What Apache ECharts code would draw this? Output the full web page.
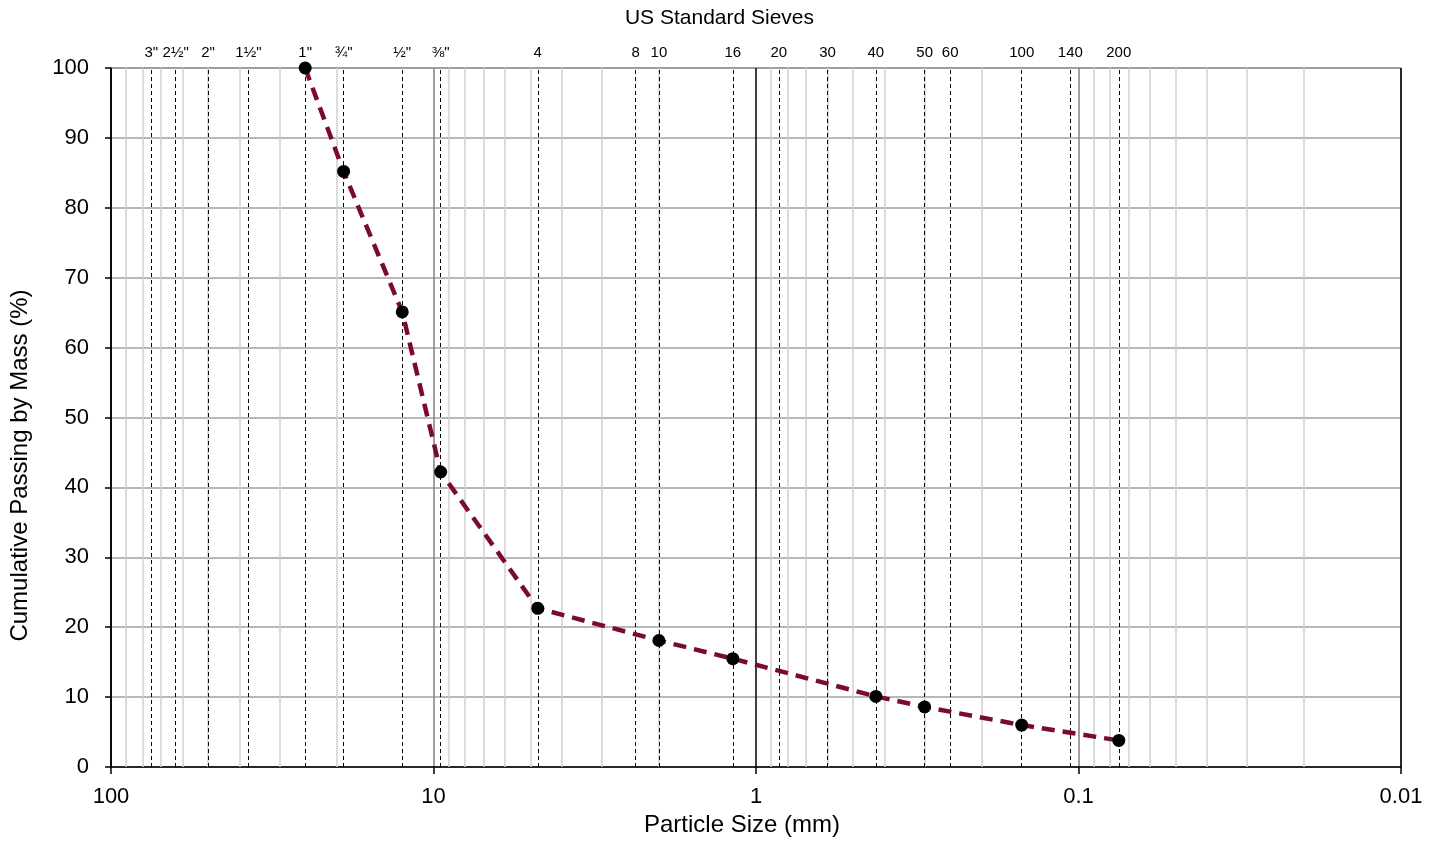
<!DOCTYPE html>
<html>
<head>
<meta charset="utf-8">
<script src="https://cdn.jsdelivr.net/npm/echarts@6/dist/echarts.min.js"></script>
<style>
html,body{margin:0;padding:0;background:#fff;}
#chart{width:1439px;height:842px;}
</style>
</head>
<body>
<div id="chart"></div>
<script>
// Sieve designations and openings (mm)
const sieveLabels = ['3"', '2½"', '2"', '1½"', '1"', '¾"', '½"', '⅜"', '4', '8', '10', '16', '20', '30', '40', '50', '60', '100', '140', '200'];
const sieveSizes  = [75, 63, 50, 37.5, 25, 19, 12.5, 9.5, 4.75, 2.36, 2.0, 1.18, 0.85, 0.6, 0.425, 0.3, 0.25, 0.15, 0.106, 0.075];

// Gradation data
const particleSizes = [25, 19, 12.5, 9.5, 4.75, 2.0, 1.18, 0.425, 0.3, 0.15, 0.075];
const percentPassing = [100, 85.2, 65.1, 42.2, 22.7, 18.1, 15.5, 10.1, 8.6, 6.0, 3.8];

// Axis structure
const xMin = 0.01, xMax = 100;
const yMin = 0, yMax = 100, yStep = 10;
const decadeExps = [-2, -1, 0, 1];
const minorMultipliers = [2, 3, 4, 5, 6, 7, 8, 9];

const minorGridValues = [];
decadeExps.forEach(e => minorMultipliers.forEach(m => minorGridValues.push(Number((m * Math.pow(10, e)).toPrecision(6)))));

const FONT = '"Liberation Sans", Arial, sans-serif';
const chart = echarts.init(document.getElementById('chart'), null, {renderer: 'canvas'});

chart.setOption({
  animation: false,
  backgroundColor: '#fff',
  title: {
    text: 'US Standard Sieves',
    left: 'center',
    top: 3,
    textStyle: {fontFamily: FONT, fontSize: 21, fontWeight: 'normal', color: '#000'}
  },
  grid: {
    left: 111, right: 38, top: 68, bottom: 75,
    show: true, borderColor: '#404040', borderWidth: 1, backgroundColor: 'transparent'
  },
  xAxis: {
    type: 'log', logBase: 10, min: xMin, max: xMax, inverse: true,
    name: 'Particle Size (mm)', nameLocation: 'middle', nameGap: 46,
    nameTextStyle: {fontFamily: FONT, fontSize: 24, color: '#000', padding: [0, 28, 0, 0]},
    axisLine: {show: true, lineStyle: {color: '#000', width: 1.5}},
    axisTick: {show: true, length: 7, lineStyle: {color: '#000', width: 1.5}},
    axisLabel: {
      fontFamily: FONT, fontSize: 22, color: '#000', margin: 19,
      formatter: v => String(Number(Number(v).toPrecision(6)))
    },
    splitLine: {show: true, lineStyle: {color: ['#000', '#808080', '#000', '#808080', '#000'], width: 1.5}},
    minorTick: {show: false}, minorSplitLine: {show: false}
  },
  yAxis: {
    type: 'value', min: yMin, max: yMax, interval: yStep,
    name: 'Cumulative Passing by Mass (%)', nameLocation: 'middle', nameGap: 79,
    nameTextStyle: {fontFamily: FONT, fontSize: 24, color: '#000', padding: [0, 96, 0, 0]},
    axisLine: {show: true, lineStyle: {color: '#000', width: 1.5}},
    axisTick: {show: true, length: 6, lineStyle: {color: '#000', width: 1.5}},
    axisLabel: {fontFamily: FONT, fontSize: 22, color: '#000', margin: 22},
    splitLine: {show: true, lineStyle: {color: '#a0a0a0', width: 1.5}}
  },
  series: [
    {
      name: 'minorGrid', type: 'line', data: [], silent: true, z: 1,
      markLine: {
        silent: true, symbol: ['none', 'none'], animation: false, precision: 6,
        lineStyle: {color: '#d0d0d0', width: 1.5, type: 'solid'},
        label: {show: false},
        data: minorGridValues.map(v => ({xAxis: v}))
      }
    },
    {
      name: 'sieves', type: 'line', data: [], silent: true, z: 2,
      markLine: {
        silent: true, symbol: ['none', 'none'], animation: false, precision: 6,
        lineStyle: {color: '#000', width: 1, type: [4, 3]},
        label: {
          show: true, position: 'end', distance: 8, formatter: '{b}',
          fontFamily: FONT, fontSize: 15, color: '#000'
        },
        data: sieveSizes.map((v, i) => ({xAxis: v, name: sieveLabels[i]}))
      }
    },
    {
      name: 'Gradation', type: 'line', z: 5,
      data: particleSizes.map((x, i) => [x, percentPassing[i]]),
      lineStyle: {color: '#7b0a32', width: 4.5, type: [13, 8]},
      symbol: 'circle', symbolSize: 13,
      itemStyle: {color: '#000'},
      clip: false
    }
  ]
});
</script>
</body>
</html>
